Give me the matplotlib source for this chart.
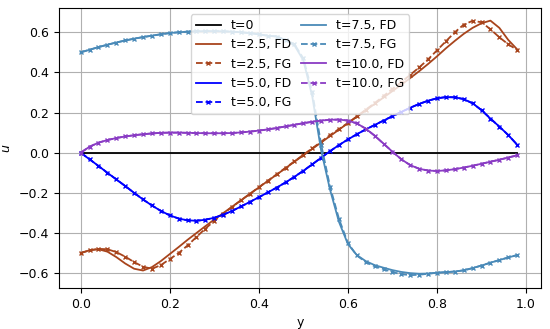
import numpy as np
import matplotlib
matplotlib.use("Agg")
import matplotlib.pyplot as plt

# grid of y positions (step 0.02)
y = np.linspace(0, 0.98, 50)

u0 = np.zeros(50)

u25_fd = [-0.500, -0.486, -0.481, -0.493, -0.520, -0.552, -0.578, -0.587, -0.570, -0.540,
          -0.505, -0.470, -0.434, -0.400, -0.366, -0.333, -0.301, -0.269, -0.237, -0.205,
          -0.173, -0.141, -0.109, -0.077, -0.045, -0.013, 0.019, 0.051, 0.083, 0.115,
          0.147, 0.179, 0.211, 0.243, 0.275, 0.307, 0.339, 0.372, 0.406, 0.442,
          0.480, 0.520, 0.557, 0.592, 0.622, 0.645, 0.658, 0.622, 0.562, 0.515]

u25_fg = [-0.500, -0.486, -0.479, -0.481, -0.495, -0.518, -0.545, -0.568, -0.578, -0.560,
          -0.530, -0.500, -0.462, -0.420, -0.378, -0.340, -0.304, -0.270, -0.237, -0.205,
          -0.172, -0.140, -0.108, -0.075, -0.043, -0.010, 0.022, 0.055, 0.088, 0.118,
          0.148, 0.181, 0.214, 0.247, 0.282, 0.318, 0.352, 0.388, 0.425, 0.465,
          0.510, 0.555, 0.600, 0.638, 0.657, 0.650, 0.615, 0.575, 0.540, 0.512]

u50 = [0.000, -0.033, -0.066, -0.100, -0.133, -0.166, -0.200, -0.233, -0.263, -0.290,
       -0.312, -0.328, -0.337, -0.339, -0.334, -0.324, -0.309, -0.290, -0.268, -0.245,
       -0.222, -0.198, -0.174, -0.148, -0.120, -0.090, -0.058, -0.025, 0.008, 0.038,
       0.066, 0.092, 0.116, 0.138, 0.160, 0.182, 0.203, 0.224, 0.243, 0.259,
       0.271, 0.277, 0.276, 0.267, 0.246, 0.212, 0.170, 0.130, 0.088, 0.040]

u75_fd = [0.500, 0.513, 0.526, 0.538, 0.549, 0.559, 0.568, 0.576, 0.583, 0.590,
          0.596, 0.600, 0.603, 0.605, 0.606, 0.606, 0.605, 0.603, 0.600, 0.596,
          0.590, 0.582, 0.580, 0.560, 0.535, 0.460, 0.280, 0.010, -0.185, -0.345,
          -0.455, -0.510, -0.540, -0.560, -0.573, -0.585, -0.594, -0.600, -0.603, -0.602,
          -0.598, -0.595, -0.592, -0.586, -0.575, -0.562, -0.548, -0.535, -0.522, -0.510]

u75_fg = [0.500, 0.513, 0.526, 0.538, 0.549, 0.559, 0.568, 0.576, 0.583, 0.590,
          0.596, 0.600, 0.603, 0.605, 0.606, 0.606, 0.605, 0.603, 0.600, 0.596,
          0.590, 0.583, 0.578, 0.562, 0.540, 0.470, 0.300, 0.040, -0.170, -0.330,
          -0.450, -0.512, -0.545, -0.566, -0.580, -0.595, -0.605, -0.610, -0.608, -0.603,
          -0.598, -0.595, -0.592, -0.586, -0.575, -0.562, -0.548, -0.535, -0.522, -0.510]

u100 = [0.000, 0.030, 0.050, 0.063, 0.073, 0.081, 0.087, 0.092, 0.096, 0.099,
        0.100, 0.100, 0.099, 0.098, 0.097, 0.097, 0.097, 0.098, 0.101, 0.105,
        0.110, 0.116, 0.123, 0.131, 0.139, 0.147, 0.154, 0.160, 0.164, 0.165,
        0.160, 0.146, 0.120, 0.085, 0.045, 0.005, -0.033, -0.062, -0.080, -0.089,
        -0.091, -0.088, -0.082, -0.074, -0.065, -0.055, -0.045, -0.035, -0.024, -0.013]

plt.rcParams['font.size'] = 9

fig = plt.figure(figsize=(5.5, 3.29), dpi=100)
ax = fig.add_axes([0.107, 0.125, 0.877, 0.851])

c25 = '#a8441c'
c50 = 'blue'
c75 = '#4a8ab8'
c100 = '#8a3cc4'

ax.plot(y, u0, color='k', lw=1.3, label='t=0')
ax.plot(y, u25_fd, color=c25, lw=1.3, label='t=2.5, FD')
ax.plot(y, u25_fg, '--x', color=c25, lw=1.3, ms=3.5, label='t=2.5, FG')
ax.plot(y, u50, color=c50, lw=1.3, label='t=5.0, FD')
ax.plot(y, u50, '--x', color=c50, lw=1.3, ms=3.5, label='t=5.0, FG')
ax.plot(y, u75_fd, color=c75, lw=1.3, label='t=7.5, FD')
ax.plot(y, u75_fg, '--x', color=c75, lw=1.3, ms=3.5, label='t=7.5, FG')
ax.plot(y, u100, color=c100, lw=1.3, label='t=10.0, FD')
ax.plot(y, u100, '--x', color=c100, lw=1.3, ms=3.5, label='t=10.0, FG')

ax.set_xlim(-0.049, 1.034)
ax.set_xlabel('y')
ax.set_ylabel('$u$')
ax.grid(True)
ax.legend(loc='upper center', ncol=2, columnspacing=0.8)

fig.savefig('out.png')
